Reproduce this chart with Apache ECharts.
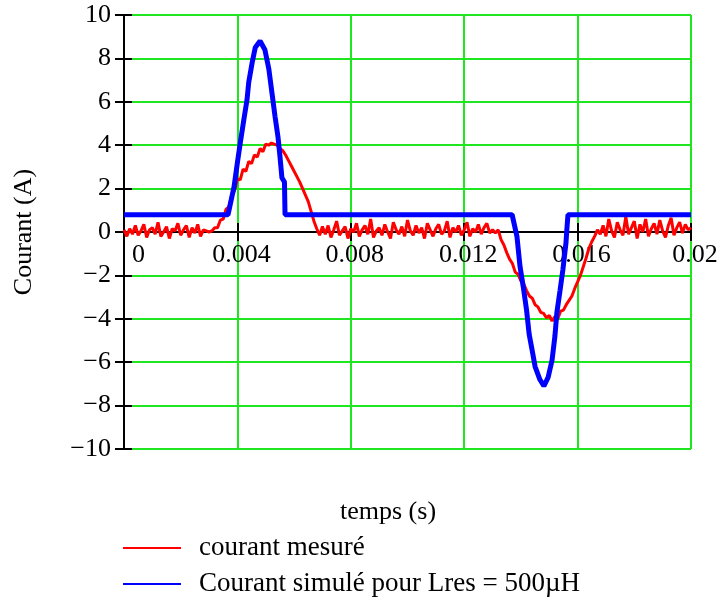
<!DOCTYPE html>
<html>
<head>
<meta charset="utf-8">
<script src="https://cdn.jsdelivr.net/npm/echarts@6/dist/echarts.min.js"></script>
<style>
html,body{margin:0;padding:0;background:#fff;}
#chart{width:723px;height:605px;}
</style>
</head>
<body>
<div id="chart"></div>
<script>
// Sample period of the measured signal (s)
const redStep = 0.0001;
// Measured current (A), one value per sample, t = 0 ... 0.02 s
const redBase1 = [0.1,-0.2,0.15,-0.1,0.3,-0.15,0.05,0.35,-0.25,0.1, 0.2,-0.1,0.45,-0.2,0.0,0.25,-0.3,0.15,0.05,0.4, -0.15,0.1,0.3,-0.25,0.2,-0.05,0.35,-0.2,0.1,0.05, 0.0];
const redPulse1 = [0.05,0.2,0.2,0.55,0.6,1.05,1.15,1.7,1.9,2.45, 2.4,2.9,2.8,3.25,3.15,3.55,3.45,3.85,3.7,4.05, 4.0,4.1,4.05,4.0,3.85,3.75,3.55,3.3,3.05,2.8, 2.55,2.3,2.0,1.7,1.4,0.95,0.5,0.15,-0.15,0.25];
const redBase2 = [-0.1,0.3,-0.25,0.1,0.5,-0.15,0.05,0.25,-0.3,0.15, 0.0,0.4,-0.2,0.1,0.3,-0.1,0.6,-0.25,0.05,0.2, -0.15,0.35,0.0,-0.3,0.45,0.1,-0.1,0.25,-0.2,0.55, 0.05,-0.15,0.3,-0.05,0.2,-0.3,0.4,0.1,-0.2,0.15, 0.35,-0.1,0.05,0.5,-0.25,0.2,0.0,0.3,-0.15,0.1, 0.45,-0.2,0.15,0.0,0.35,-0.1,0.2,0.4,-0.05,0.1];
const redPulse2 = [-0.05,0.1,-0.35,-0.6,-0.95,-1.25,-1.45,-1.85,-1.95,-2.25, -2.4,-2.7,-2.95,-3.05,-3.35,-3.45,-3.7,-3.75,-3.95,-3.85, -4.1,-3.9,-4.0,-3.65,-3.6,-3.35,-3.15,-2.95,-2.6,-2.3, -2.0,-1.6,-1.2,-0.75,-0.45,-0.2,0.1,-0.1];
const redBase3 = [0.3,-0.2,0.6,0.05,-0.25,0.45,0.1,-0.15,0.7,-0.1, 0.2,0.5,-0.3,0.35,0.0,0.6,-0.2,0.15,0.4,-0.1, 0.55,0.05,-0.25,0.3,0.65,-0.15,0.2,0.45,-0.05,0.35, 0.1,0.2];

// Simulated current (A): [time (s), value]
const blueSim = [
  [0,0.8],[0.00367,0.8],[0.00388,2.07],[0.004,3.2],[0.0041,4.1],[0.00423,5.2],[0.00434,6.1],
  [0.0044,6.9],[0.00452,7.8],[0.00463,8.5],[0.0048,8.8],[0.00497,8.4],[0.00511,7.5],[0.00522,6.4],
  [0.00533,5.3],[0.00543,4.4],[0.0055,3.5],[0.00557,2.5],[0.00566,2.3],[0.00568,0.8],
  [0.01369,0.8],[0.01386,-0.2],[0.01397,-1.6],[0.01408,-2.5],[0.0142,-3.6],[0.01429,-4.7],
  [0.01439,-5.4],[0.0145,-6.2],[0.01467,-6.8],[0.01481,-7.1],[0.01496,-6.7],[0.0151,-5.9],
  [0.0152,-4.8],[0.01527,-3.7],[0.01538,-2.7],[0.01548,-1.75],[0.01559,-0.5],[0.01562,0.1],
  [0.01566,0.8],[0.02,0.8]
];

const seriesNames = ['courant mesuré', 'Courant simulé pour Lres = 500\u00b5H'];
const xTitle = 'temps (s)';
const yTitle = 'Courant (A)';

const redCurrent = redBase1.concat(redPulse1, redBase2, redPulse2, redBase3);
const redData = redCurrent.map((v, i) => [+(i * redStep).toFixed(5), v]);

const FONT = 'Liberation Serif';
const green = '#1fe61f';

// grid geometry
const W = 723, H = 605;
const gridL = 124, gridR = 32, gridT = 15, gridB = 156;
const yMin = -10, yMax = 10;
const gridH = H - gridT - gridB;
// move the time axis up to the y = 0 line
const xAxisOffset = -gridH * (0 - yMin) / (yMax - yMin);

const chart = echarts.init(document.getElementById('chart'), null, {renderer: 'canvas'});
chart.setOption({
  backgroundColor: '#fff',
  animation: false,
  title: {
    text: xTitle,
    left: 340, top: 499, padding: 0,
    textStyle: {fontFamily: FONT, fontSize: 26, fontWeight: 'normal', color: '#000'}
  },
  legend: {
    orient: 'vertical',
    left: 122, top: 534, padding: 0,
    itemWidth: 58, itemHeight: 14, itemGap: 8,
    itemStyle: {opacity: 0},
    textStyle: {fontFamily: FONT, fontSize: 27, color: '#000', lineHeight: 28, padding: [0,0,0,13]},
    data: seriesNames
  },
  grid: {left: gridL, right: gridR, top: gridT, bottom: gridB, containLabel: false},
  xAxis: [{
    type: 'value', min: 0, max: 0.02, interval: 0.004, position: 'bottom', offset: xAxisOffset,
    axisLine: {show: true, onZero: false, lineStyle: {color: '#000', width: 2}},
    axisTick: {show: true, inside: false, length: 9, lineStyle: {color: '#000', width: 2}},
    axisLabel: {
      fontFamily: FONT, fontSize: 26, color: '#000', margin: 10, padding: [0,0,0,8],
      alignMinLabel: 'left',
      formatter: v => v === 0 ? '0' : String(+v.toFixed(3))
    },
    splitLine: {show: true, lineStyle: {color: green, width: 2}}
  }, {
    type: 'value', min: 0, max: 0.02, interval: 0.004, position: 'bottom', offset: xAxisOffset,
    axisLine: {show: false, onZero: false},
    axisTick: {show: true, inside: true, length: 9, lineStyle: {color: '#000', width: 2}},
    axisLabel: {show: false},
    splitLine: {show: false}
  }],
  yAxis: [{
    type: 'value', min: yMin, max: yMax, interval: 2,
    name: yTitle, nameLocation: 'middle', nameGap: 87,
    nameTextStyle: {fontFamily: FONT, fontSize: 26, color: '#000'},
    axisLine: {show: true, onZero: false, lineStyle: {color: '#000', width: 2}},
    axisTick: {show: true, inside: false, length: 9, lineStyle: {color: '#000', width: 2}},
    axisLabel: {
      fontFamily: FONT, fontSize: 26, color: '#000', margin: 13,
      formatter: v => String(v).replace('-', '\u2212')
    },
    splitLine: {show: true, lineStyle: {color: green, width: 2}}
  }, {
    type: 'value', min: yMin, max: yMax, interval: 2, position: 'left',
    axisLine: {show: false, onZero: false},
    axisTick: {show: true, inside: true, length: 8, lineStyle: {color: '#000', width: 2}},
    axisLabel: {show: false},
    splitLine: {show: false}
  }],
  series: [{
    name: seriesNames[0], type: 'line', data: redData,
    showSymbol: false, symbol: 'none',
    lineStyle: {color: '#ff0000', width: 3}, itemStyle: {color: '#ff0000'}
  }, {
    name: seriesNames[1], type: 'line', data: blueSim,
    showSymbol: false, symbol: 'none',
    lineStyle: {color: '#0000ff', width: 5}, itemStyle: {color: '#0000ff'}
  }]
});
</script>
</body>
</html>
